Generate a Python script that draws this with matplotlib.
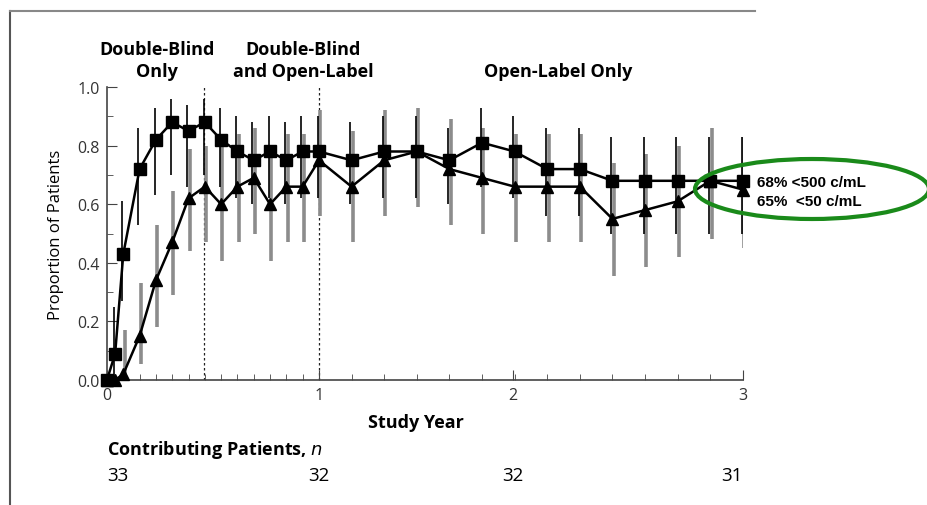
import numpy as np
import matplotlib
matplotlib.use("Agg")
import matplotlib.pyplot as plt
from matplotlib import font_manager
from matplotlib.patches import Ellipse
from matplotlib.lines import Line2D

# study visits (weeks)
weeks = [0, 2, 4, 8, 12, 16, 20, 24, 28, 32, 36, 40, 44, 48, 52,
         60, 68, 76, 84, 92, 100, 108, 116, 124, 132, 140, 148, 156]

# proportion <500 c/mL (squares)
sq_val = [0.0, 0.09, 0.43, 0.72, 0.82, 0.88, 0.85, 0.88, 0.82, 0.78, 0.75, 0.78, 0.75, 0.78, 0.78,
          0.75, 0.78, 0.78, 0.75, 0.81, 0.78, 0.72, 0.72, 0.68, 0.68, 0.68, 0.68, 0.68]
sq_lo = [0.0, 0.0, 0.27, 0.53, 0.63, 0.70, 0.66, 0.70, 0.66, 0.62, 0.60, 0.62, 0.60, 0.62, 0.62,
         0.60, 0.62, 0.62, 0.60, 0.66, 0.62, 0.56, 0.56, 0.50, 0.50, 0.50, 0.50, 0.50]
sq_hi = [0.0, 0.25, 0.61, 0.86, 0.93, 0.96, 0.94, 0.96, 0.93, 0.90, 0.88, 0.90, 0.88, 0.90, 0.90,
         0.88, 0.90, 0.90, 0.86, 0.93, 0.90, 0.86, 0.86, 0.83, 0.83, 0.83, 0.83, 0.83]

# proportion <50 c/mL (triangles)
tr_val = [0.0, 0.0, 0.02, 0.15, 0.34, 0.47, 0.62, 0.66, 0.60, 0.66, 0.69, 0.60, 0.66, 0.66, 0.75,
          0.66, 0.75, 0.78, 0.72, 0.69, 0.66, 0.66, 0.66, 0.55, 0.58, 0.61, 0.68, 0.65]
tr_lo = [0.0, 0.0, 0.0, 0.055, 0.18, 0.29, 0.44, 0.47, 0.405, 0.47, 0.50, 0.405, 0.47, 0.47, 0.56,
         0.47, 0.56, 0.59, 0.53, 0.50, 0.47, 0.47, 0.47, 0.355, 0.385, 0.42, 0.48, 0.45]
tr_hi = [0.0, 0.0, 0.17, 0.33, 0.53, 0.645, 0.79, 0.80, 0.80, 0.84, 0.86, 0.78, 0.84, 0.84, 0.92,
         0.85, 0.92, 0.93, 0.89, 0.86, 0.84, 0.84, 0.84, 0.74, 0.77, 0.80, 0.86, 0.83]

xtick_pos = [0, 1, 1.915, 3]
xtick_lab = ['0', '1', '2', '3']
n_patients = ['33', '32', '32', '31']
phase_lines = [0.46, 1.0]


def pick(*names):
    have = set(f.name for f in font_manager.fontManager.ttflist)
    for n in names:
        if n in have:
            return n
    return 'DejaVu Sans'

sans = [pick('Open Sans', 'Roboto'), 'DejaVu Sans']
arial = [pick('Liberation Sans', 'Arial'), 'DejaVu Sans']

yrs = np.array(weeks) / 52.0

fig = plt.figure(figsize=(9.27, 5.06), dpi=100)
ax = fig.add_axes([0.1154, 0.247, 0.686, 0.579])

for xv in phase_lines:
    ax.axvline(xv, color='#222222', lw=0.9, ls=(0, (2, 2)), zorder=1)

off = 0.006
ax.vlines(yrs + off, tr_lo, tr_hi, color='#8c8c8c', lw=2.6, zorder=2)
ax.vlines(yrs - off, sq_lo, sq_hi, color='black', lw=1.2, zorder=2)

ax.plot(yrs, tr_val, color='black', lw=1.8, marker='^', ms=9, clip_on=False, zorder=3)
ax.plot(yrs, sq_val, color='black', lw=1.8, marker='s', ms=9, clip_on=False, zorder=4)

ax.set_xlim(0, 3)
ax.set_ylim(0, 1.0)
ax.spines['top'].set_visible(False)
ax.spines['right'].set_visible(False)
for s in ['left', 'bottom']:
    ax.spines[s].set_color('#444444')
    ax.spines[s].set_linewidth(1.2)

ax.set_xticks(xtick_pos)
ax.set_xticklabels(xtick_lab)
ax.set_xticks(yrs, minor=True)
ax.set_yticks(np.arange(0, 1.01, 0.2))
ax.set_yticklabels(['%.1f' % v for v in np.arange(0, 1.01, 0.2)])
ax.set_yticks(np.arange(0.1, 1.0, 0.2), minor=True)
ax.tick_params(which='both', direction='in', color='#444444', labelcolor='#333333')
ax.tick_params(which='major', length=7, labelsize=11.5, pad=5)
ax.tick_params(which='minor', length=4)
for lab in ax.get_xticklabels() + ax.get_yticklabels():
    lab.set_family(sans)

ax.set_ylabel('Proportion of Patients', fontsize=12, family=sans, labelpad=10)

# phase headers
hdr = dict(ha='center', va='center', fontsize=13, fontweight='bold', family=sans)
fig.text(157 / 927, 1 - 50 / 506, 'Double-Blind', **hdr)
fig.text(157 / 927, 1 - 72 / 506, 'Only', **hdr)
fig.text(303 / 927, 1 - 50 / 506, 'Double-Blind', **hdr)
fig.text(303 / 927, 1 - 72 / 506, 'and Open-Label', **hdr)
fig.text(558 / 927, 1 - 72 / 506, 'Open-Label Only', **hdr)

fig.text(416 / 927, 1 - 423 / 506, 'Study Year', **hdr)
fig.text(107 / 927, 1 - 450 / 506, 'Contributing Patients, $\\mathit{n}$', ha='left', va='center',
         fontsize=13, fontweight='bold', family=sans)

# contributing patients under each year tick
trans = matplotlib.transforms.blended_transform_factory(ax.transData, fig.transFigure)
aligns = ['left', 'center', 'center', 'right']
for xp, n, a in zip(xtick_pos, n_patients, aligns):
    fig.text(xp, 1 - 476 / 506, n, ha=a, va='center', fontsize=13.5,
             family=sans, transform=trans)

# callout
fig.text(757 / 927, 1 - 183 / 506, '68% <500 c/mL', ha='left', va='center',
         fontsize=11, fontweight='bold', family=arial)
fig.text(757 / 927, 1 - 202 / 506, '65%  <50 c/mL', ha='left', va='center',
         fontsize=11, fontweight='bold', family=arial)
fig.patches.append(Ellipse((812 / 927, 1 - 190 / 506), 234 / 927, 60 / 506,
                           transform=fig.transFigure, fill=False,
                           edgecolor='#1a8a1a', lw=3))

# page frame
fig.lines.append(Line2D([10 / 927, 10 / 927], [0, 1 - 12 / 506], transform=fig.transFigure,
                        color='#555555', lw=1.5))
fig.lines.append(Line2D([10 / 927, 755 / 927], [1 - 12 / 506, 1 - 12 / 506],
                        transform=fig.transFigure, color='#888888', lw=1.5))

fig.savefig('out.png', dpi=100)
